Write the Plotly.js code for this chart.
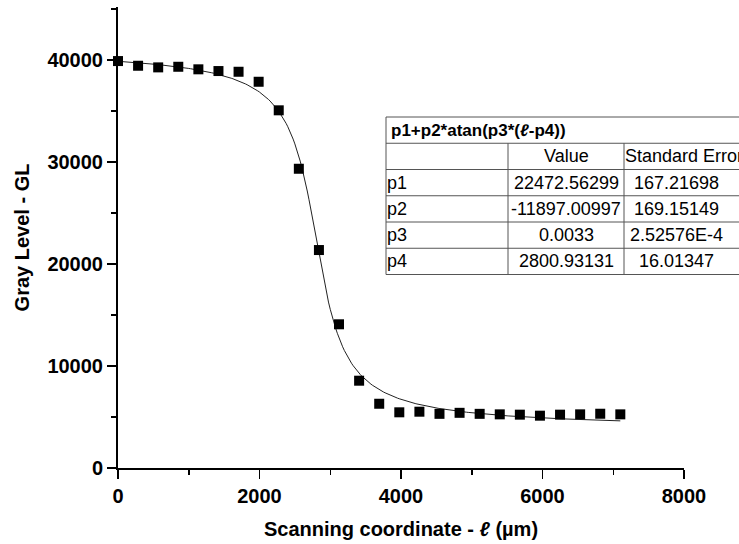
<!DOCTYPE html>
<html>
<head>
<meta charset="utf-8">
<script src="https://cdn.plot.ly/plotly-3.0.1.min.js"></script>
<style>html,body{margin:0;padding:0;background:#fff;}#chart{width:739px;height:544px;}</style>
</head>
<body>
<div id="chart"></div>
<script>
// Measured data points (scanning coordinate in µm, gray level)
const scanX = [0, 284, 568, 852, 1136, 1420, 1704, 1988, 2272, 2556, 2840, 3124, 3408,
  3692, 3976, 4260, 4544, 4828, 5112, 5396, 5680, 5964, 6248, 6532, 6816, 7100];
const grayY = [39900, 39440, 39280, 39340, 39090, 38920, 38850, 37870, 35070, 29340, 21370,
  14090, 8560, 6300, 5460, 5520, 5310, 5410, 5310, 5260, 5230, 5130, 5230, 5260, 5320, 5260];

// Fit table
const fitTitle = "p1+p2*atan(p3*(<i>ℓ</i>-p4))";
const colHeaders = ["", "Value", "Standard Error"];
const paramNames = ["p1", "p2", "p3", "p4"];
const paramValueText = ["22472.56299", "-11897.00997", "0.0033", "2800.93131"];
const paramErrorText = ["167.21698", "169.15149", "2.52576E-4", "16.01347"];
const paramValues = [22472.56299, -11897.00997, 0.0033, 2800.93131];

// Fitted curve from table parameters
const fitStart = 0, fitEnd = 7100;
const fitX = [], fitY = [];
for (let x = fitStart; x <= fitEnd; x += 25) {
  fitX.push(x);
  fitY.push(paramValues[0] + paramValues[1] * Math.atan(paramValues[2] * (x - paramValues[3])));
}

const W = 739, H = 544;
const M = {l: 118, r: 55, t: 7, b: 76};
const pw = W - M.l - M.r, ph = H - M.t - M.b;
const px = v => (v - M.l) / pw;
const py = v => (H - M.b - v) / ph;

const FONT = "Liberation Sans, Arial, Helvetica, sans-serif";
const lineCol = "#555";
const TF = 18;

// table geometry (pixels)
const tLeft = 386, tRight = 770, colX = [386, 508, 624, 770];
const rowY = [117, 143.25, 169.5, 195.75, 222, 248.25, 274.5];

const shapes = [];
const annotations = [];
shapes.push({type: "rect", xref: "paper", yref: "paper", x0: px(tLeft), x1: px(tRight),
  y0: py(rowY[0]), y1: py(rowY[rowY.length - 1]), line: {color: lineCol, width: 1}, fillcolor: "rgba(255,255,255,1)", layer: "above"});
for (let i = 1; i < rowY.length - 1; i++) {
  shapes.push({type: "line", xref: "paper", yref: "paper", x0: px(tLeft), x1: px(tRight),
    y0: py(rowY[i]), y1: py(rowY[i]), line: {color: lineCol, width: 1}, layer: "above"});
}
for (let c = 1; c < colX.length - 1; c++) {
  shapes.push({type: "line", xref: "paper", yref: "paper", x0: px(colX[c]), x1: px(colX[c]),
    y0: py(rowY[1]), y1: py(rowY[rowY.length - 1]), line: {color: lineCol, width: 1}, layer: "above"});
}
const mid = i => py((rowY[i] + rowY[i + 1]) / 2);
annotations.push({xref: "paper", yref: "paper", x: px(389), y: mid(0), xanchor: "left", yanchor: "middle",
  text: "<b>" + fitTitle + "</b>", showarrow: false, font: {family: FONT, size: 17, color: "#000"}});
annotations.push({xref: "paper", yref: "paper", x: px((colX[1] + colX[2]) / 2), y: mid(1), xanchor: "center", yanchor: "middle",
  text: colHeaders[1], showarrow: false, font: {family: FONT, size: TF, color: "#000"}});
annotations.push({xref: "paper", yref: "paper", x: px(623), y: mid(1), xanchor: "left", yanchor: "middle",
  text: colHeaders[2], showarrow: false, font: {family: FONT, size: TF, color: "#000"}});
for (let r = 0; r < paramNames.length; r++) {
  annotations.push({xref: "paper", yref: "paper", x: px(385), y: mid(r + 2), xanchor: "left", yanchor: "middle",
    text: paramNames[r], showarrow: false, font: {family: FONT, size: TF, color: "#000"}});
  annotations.push({xref: "paper", yref: "paper", x: px((colX[1] + colX[2]) / 2), y: mid(r + 2), xanchor: "center", yanchor: "middle",
    text: paramValueText[r], showarrow: false, font: {family: FONT, size: TF, color: "#000"}});
  annotations.push({xref: "paper", yref: "paper", x: px(676), y: mid(r + 2), xanchor: "center", yanchor: "middle",
    text: paramErrorText[r], showarrow: false, font: {family: FONT, size: TF, color: "#000"}});
}

const traces = [
  {x: fitX, y: fitY, type: "scatter", mode: "lines", line: {color: "#222", width: 1}, hoverinfo: "skip", cliponaxis: false},
  {x: scanX, y: grayY, type: "scatter", mode: "markers", marker: {symbol: "square", size: 10, color: "#000"}, cliponaxis: false}
];

const axisCommon = {
  showgrid: false, zeroline: false, showline: true, linecolor: "#000", linewidth: 2,
  ticks: "outside", ticklen: 9, tickwidth: 1.5, tickcolor: "#000",
  tickfont: {family: FONT, size: 20, color: "#000", weight: "bold"},
  tickformat: "d", separatethousands: false,
  fixedrange: true
};

const layout = {
  width: W, height: H, margin: M,
  paper_bgcolor: "#fff", plot_bgcolor: "#fff", showlegend: false,
  font: {family: FONT, color: "#000"},
  xaxis: Object.assign({}, axisCommon, {
    range: [0, 8000], dtick: 2000, tick0: 0,
    minor: {dtick: 1000, ticks: "outside", ticklen: 5, tickwidth: 1.5, tickcolor: "#000"},
    title: {text: "Scanning coordinate - <i>ℓ</i> (µm)", font: {family: FONT, size: 20, weight: "bold", color: "#000"}, standoff: 16}
  }),
  yaxis: Object.assign({}, axisCommon, {
    range: [0, 45200], dtick: 10000, tick0: 0,
    minor: {dtick: 5000, ticks: "outside", ticklen: 5, tickwidth: 1.5, tickcolor: "#000"},
    title: {text: "Gray Level - GL", font: {family: FONT, size: 20, weight: "bold", color: "#000"}, standoff: 12}
  }),
  shapes: shapes,
  annotations: annotations
};

Plotly.newPlot("chart", traces, layout, {staticPlot: true, displayModeBar: false});
</script>
</body>
</html>
